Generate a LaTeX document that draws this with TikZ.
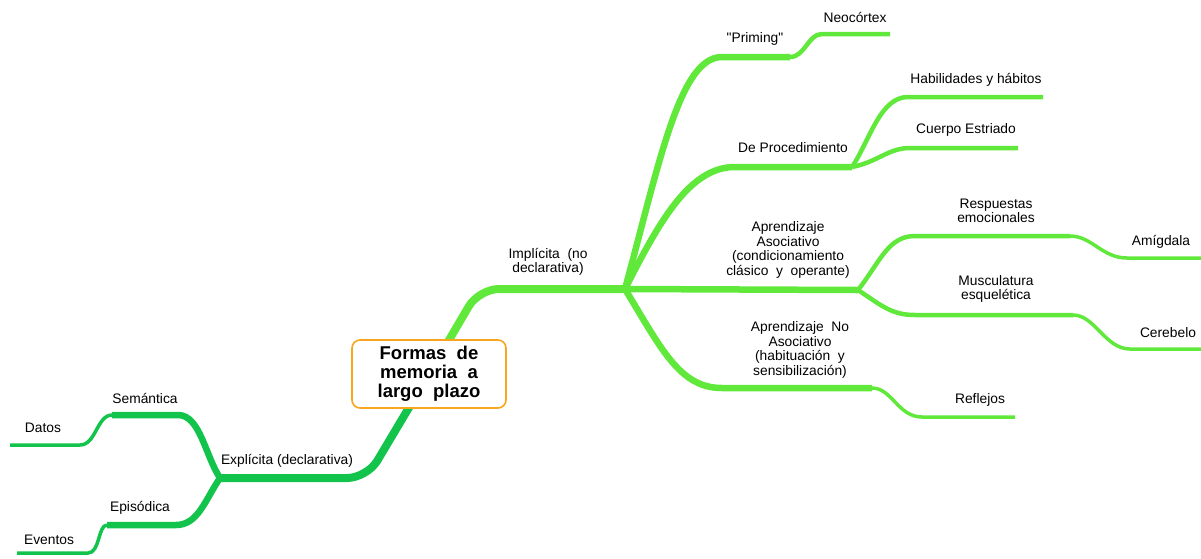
\documentclass[tikz,border=0pt]{standalone}
\usepackage{fontspec}
\setmainfont{Liberation Sans}
\usepackage{tikz}
\usetikzlibrary{backgrounds}
\definecolor{implgreen}{RGB}{96,232,58}
\definecolor{explgreen}{RGB}{18,196,76}
\definecolor{rootorange}{RGB}{247,166,30}
\tikzset{
  lbl/.style={align=center, inner sep=0pt, font=\fontsize{13.8}{14.6}\selectfont},
  rootbox/.style={draw=rootorange, line width=1.6pt, fill=white, rounded corners=8pt,
    minimum width=154pt, minimum height=68pt, align=center,
    font=\bfseries\fontsize{18.5}{19}\selectfont},
  lvlone/.style={line width=8pt, rounded corners=20pt},
  lvltwo/.style={line width=6.5pt},
  lvlthree/.style={line width=4.5pt},
  lvlfour/.style={line width=3.5pt}
}

\begin{document}
\begin{tikzpicture}[x=1pt, y=-1pt]
  \useasboundingbox (0,0) rectangle (1201,558);

  \node[rootbox] (root) at (429,374){Formas~ de\\memoria~ a\\largo~ plazo};

  % branch points
  \coordinate (hubI) at (625,289);
  \coordinate (hubE) at (220,478);
  \coordinate (prim) at (790,57);
  \coordinate (neo) at (890,34);
  \coordinate (proc) at (852,167);
  \coordinate (hab) at (1043,97);
  \coordinate (cuer) at (1018,148);
  \coordinate (asoc) at (858,290);
  \coordinate (resp) at (1070,236);
  \coordinate (amig) at (1201,258);
  \coordinate (musc) at (1073,315);
  \coordinate (cere) at (1201,349);
  \coordinate (noas) at (872,388);
  \coordinate (refl) at (1015,417);
  \coordinate (sem) at (112,415);
  \coordinate (dat) at (10,445);
  \coordinate (epi) at (107,525);
  \coordinate (eve) at (17,553);

  % labels
  \node[lbl] (lImp) at (548,262){Implícita~ (no\\declarativa)};
  \node[lbl] (lPrim) at (755,39){\textquotedbl Priming\textquotedbl};
  \node[lbl] (lNeo) at (855,17){Neocórtex};
  \node[lbl] (lProc) at (793,148){De Procedimiento};
  \node[lbl] (lHab) at (976,80){Habilidades y hábitos};
  \node[lbl] (lCuer) at (966,130){Cuerpo Estriado};
  \node[lbl] (lAsoc) at (788,250){Aprendizaje\\Asociativo\\(condicionamiento\\clásico~ y~ operante)};
  \node[lbl] (lResp) at (996,211){Respuestas\\emocionales};
  \node[lbl] (lAmig) at (1161,242){Amígdala};
  \node[lbl] (lMusc) at (996,289){Musculatura\\esquelética};
  \node[lbl] (lCere) at (1168,333){Cerebelo};
  \node[lbl] (lNoas) at (800,350){Aprendizaje~ No\\Asociativo\\(habituación~ y\\sensibilización)};
  \node[lbl] (lRefl) at (980,400){Reflejos};
  \node[lbl] (lExp) at (287,461){Explícita (declarativa)};
  \node[lbl] (lSem) at (145,398){Semántica};
  \node[lbl] (lDat) at (43,428){Datos};
  \node[lbl] (lEpi) at (140,508){Episódica};
  \node[lbl] (lEve) at (49,540){Eventos};

  \begin{scope}[on background layer]
    % implicit side
    \draw[implgreen, lvlone] (root.center) -- (479,289) -- (hubI);
    \draw[implgreen, lvltwo] (hubI) .. controls (660,160) and (680,57) .. (722,57) -- (prim);
    \draw[implgreen, lvlthree] (prim) .. controls (805,57) and (808,34) .. (822,34) -- (neo);
    \draw[implgreen, lvltwo] (hubI) .. controls (660,220) and (690,167) .. (735,167) -- (proc);
    \draw[implgreen, lvlthree] (proc) .. controls (870,140) and (880,97) .. (908,97) -- (hab);
    \draw[implgreen, lvlthree] (proc) .. controls (878,162) and (888,148) .. (910,148) -- (cuer);
    \draw[implgreen, lvltwo] (hubI) -- (asoc);
    \draw[implgreen, lvlthree] (asoc) .. controls (880,262) and (888,236) .. (915,236) -- (resp);
    \draw[implgreen, lvlfour] (resp) .. controls (1092,236) and (1102,258) .. (1127,258) -- (amig);
    \draw[implgreen, lvlthree] (asoc) .. controls (882,306) and (892,315) .. (915,315) -- (musc);
    \draw[implgreen, lvlfour] (musc) .. controls (1095,315) and (1105,349) .. (1130,349) -- (cere);
    \draw[implgreen, lvltwo] (hubI) .. controls (662,350) and (680,388) .. (722,388) -- (noas);
    \draw[implgreen, lvlfour] (noas) .. controls (892,388) and (898,417) .. (922,417) -- (refl);
    % explicit side
    \draw[explgreen, lvlone] (root.center) -- (367,478) -- (hubE);
    \draw[explgreen, lvltwo] (hubE) .. controls (205,455) and (200,415) .. (178,415) -- (sem);
    \draw[explgreen, lvlfour] (sem) .. controls (97,415) and (96,445) .. (80,445) -- (dat);
    \draw[explgreen, lvltwo] (hubE) .. controls (205,500) and (198,525) .. (176,525) -- (epi);
    \draw[explgreen, lvlfour] (epi) .. controls (98,525) and (100,553) .. (88,553) -- (eve);
  \end{scope}
\end{tikzpicture}
\end{document}
